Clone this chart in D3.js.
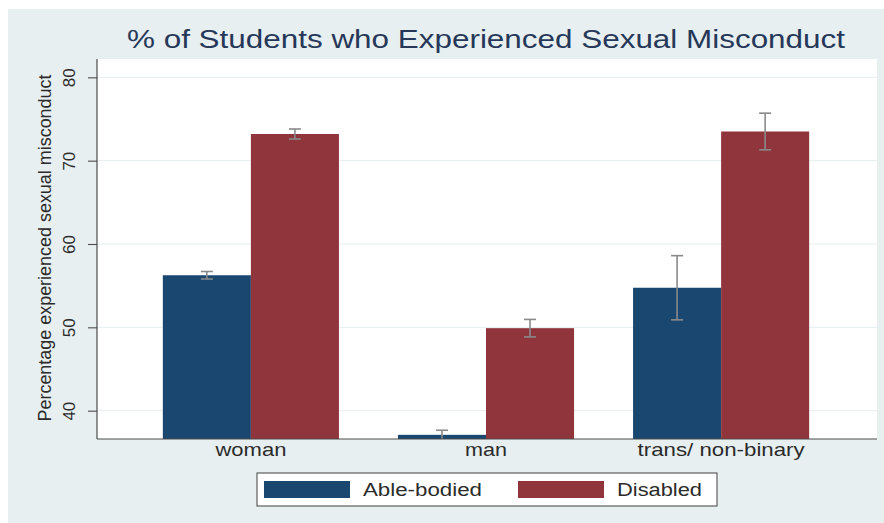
<!DOCTYPE html>
<html>
<head>
<meta charset="utf-8">
<script src="https://cdn.jsdelivr.net/npm/d3@7"></script>
<style>
  html, body { margin: 0; padding: 0; background: #ffffff; }
  svg { display: block; font-family: Arial, "Liberation Sans", Helvetica, sans-serif; }
</style>
</head>
<body>
<svg id="chart" width="884" height="523"></svg>
<script>
// Gender groups and disability status
const categories = ["woman", "man", "trans/ non-binary"];
const series = ["Able-bodied", "Disabled"];

// Percentage who experienced sexual misconduct, with 95% CI half-widths
const ableBodied = [56.25, 37.1, 54.75];
const disabled = [73.2, 49.9, 73.5];
const ableBodiedErr = [0.45, 0.55, 3.85];
const disabledErr = [0.6, 1.05, 2.2];

const yTicks = [40, 50, 60, 70, 80];
const yRange = [36.6, 82.2];

const colors = { "Able-bodied": "#1a476f", "Disabled": "#90353b" };

const svg = d3.select("#chart");

// Outer graph region
svg.append("rect")
  .attr("x", 8).attr("y", 9).attr("width", 876).attr("height", 514)
  .attr("fill", "#e8eff1");

const plot = { left: 97, right: 877, top: 59, bottom: 439 };

// Plot region
svg.append("rect")
  .attr("x", plot.left).attr("y", plot.top)
  .attr("width", plot.right - plot.left).attr("height", plot.bottom - plot.top)
  .attr("fill", "#ffffff");

const y = d3.scaleLinear().domain(yRange).range([plot.bottom, plot.top]);

const x0 = d3.scaleBand()
  .domain(categories)
  .range([plot.left, 875])
  .paddingInner(0.251)
  .paddingOuter(0.28);

const x1 = d3.scaleBand()
  .domain(series)
  .range([0, x0.bandwidth()])
  .padding(0);

// Gridlines
svg.append("g")
  .selectAll("line")
  .data(yTicks)
  .join("line")
  .attr("x1", plot.left).attr("x2", plot.right)
  .attr("y1", d => y(d)).attr("y2", d => y(d))
  .attr("stroke", "#e6eef0").attr("stroke-width", 1);

// Bars
const rows = categories.map((c, i) => ({
  category: c,
  values: [
    { key: "Able-bodied", value: ableBodied[i], err: ableBodiedErr[i] },
    { key: "Disabled", value: disabled[i], err: disabledErr[i] }
  ]
}));

const groups = svg.append("g")
  .selectAll("g")
  .data(rows)
  .join("g")
  .attr("transform", d => `translate(${x0(d.category)},0)`);

groups.selectAll("rect")
  .data(d => d.values)
  .join("rect")
  .attr("x", d => x1(d.key))
  .attr("y", d => y(d.value))
  .attr("width", x1.bandwidth())
  .attr("height", d => plot.bottom - y(d.value))
  .attr("fill", d => colors[d.key]);

// Confidence interval whiskers
const capHalf = 6;
const eb = groups.selectAll("g.err")
  .data(d => d.values)
  .join("g")
  .attr("class", "err")
  .attr("stroke", "#8a8a8a")
  .attr("stroke-width", 1.6)
  .attr("fill", "none");

eb.append("line")
  .attr("x1", d => x1(d.key) + x1.bandwidth() / 2)
  .attr("x2", d => x1(d.key) + x1.bandwidth() / 2)
  .attr("y1", d => y(d.value + d.err))
  .attr("y2", d => Math.min(y(d.value - d.err), plot.bottom));

eb.append("line")
  .attr("x1", d => x1(d.key) + x1.bandwidth() / 2 - capHalf)
  .attr("x2", d => x1(d.key) + x1.bandwidth() / 2 + capHalf)
  .attr("y1", d => y(d.value + d.err))
  .attr("y2", d => y(d.value + d.err));

eb.filter(d => y(d.value - d.err) < plot.bottom)
  .append("line")
  .attr("x1", d => x1(d.key) + x1.bandwidth() / 2 - capHalf)
  .attr("x2", d => x1(d.key) + x1.bandwidth() / 2 + capHalf)
  .attr("y1", d => y(d.value - d.err))
  .attr("y2", d => y(d.value - d.err));

// Y axis with vertical tick labels
const yAxis = svg.append("g")
  .attr("transform", `translate(${plot.left},0)`)
  .call(d3.axisLeft(y).tickValues(yTicks).tickSize(9).tickPadding(0).tickFormat(d3.format("d")));
yAxis.select(".domain").remove();
yAxis.selectAll(".tick line").attr("stroke", "#4a4a4a").attr("stroke-width", 1.1);
yAxis.selectAll(".tick text")
  .attr("font-size", 17)
  .attr("fill", "#2b2b2b")
  .attr("text-anchor", "middle")
  .attr("x", 0).attr("dy", 0)
  .attr("transform", "translate(-22,0) rotate(-90)");

svg.append("line")
  .attr("x1", plot.left).attr("x2", plot.left)
  .attr("y1", plot.top).attr("y2", plot.bottom)
  .attr("stroke", "#4a4a4a").attr("stroke-width", 1.2);

// X axis
const xAxis = svg.append("g")
  .attr("transform", `translate(0,${plot.bottom})`)
  .call(d3.axisBottom(x0).tickSize(0).tickPadding(0));
xAxis.select(".domain").remove();
svg.append("line")
  .attr("x1", plot.left).attr("x2", plot.right)
  .attr("y1", plot.bottom).attr("y2", plot.bottom)
  .attr("stroke", "#4a4a4a").attr("stroke-width", 1.2);

const xLabelWidths = { "woman": 71, "man": 42, "trans/ non-binary": 167 };
xAxis.selectAll(".tick text")
  .attr("font-size", 19)
  .attr("fill", "#2b2b2b")
  .attr("dy", 0).attr("y", 17)
  .attr("textLength", d => xLabelWidths[d])
  .attr("lengthAdjust", "spacingAndGlyphs");

// Y axis title
svg.append("text")
  .attr("transform", `translate(51,${(plot.top + plot.bottom) / 2 - 1}) rotate(-90)`)
  .attr("text-anchor", "middle")
  .attr("font-size", 18)
  .attr("fill", "#2b2b2b")
  .attr("textLength", 347)
  .attr("lengthAdjust", "spacingAndGlyphs")
  .text("Percentage experienced sexual misconduct");

// Title
svg.append("text")
  .attr("x", 486).attr("y", 48)
  .attr("text-anchor", "middle")
  .attr("font-size", 25)
  .attr("fill", "#263859")
  .attr("textLength", 718)
  .attr("lengthAdjust", "spacingAndGlyphs")
  .text("% of Students who Experienced Sexual Misconduct");

// Legend
const legend = svg.append("g");
legend.append("rect")
  .attr("x", 257).attr("y", 473).attr("width", 460).attr("height", 33)
  .attr("fill", "#ffffff").attr("stroke", "#505050").attr("stroke-width", 1.1);

const legendItems = [
  { key: "Able-bodied", sx: 264, tx: 363, tw: 119 },
  { key: "Disabled", sx: 518, tx: 617, tw: 85 }
];
const li = legend.selectAll("g.item").data(legendItems).join("g").attr("class", "item");
li.append("rect")
  .attr("x", d => d.sx).attr("y", 481).attr("width", 86).attr("height", 17)
  .attr("fill", d => colors[d.key]);
li.append("text")
  .attr("x", d => d.tx).attr("y", 496)
  .attr("font-size", 18)
  .attr("fill", "#2b2b2b")
  .attr("textLength", d => d.tw)
  .attr("lengthAdjust", "spacingAndGlyphs")
  .text(d => d.key);
</script>
</body>
</html>
